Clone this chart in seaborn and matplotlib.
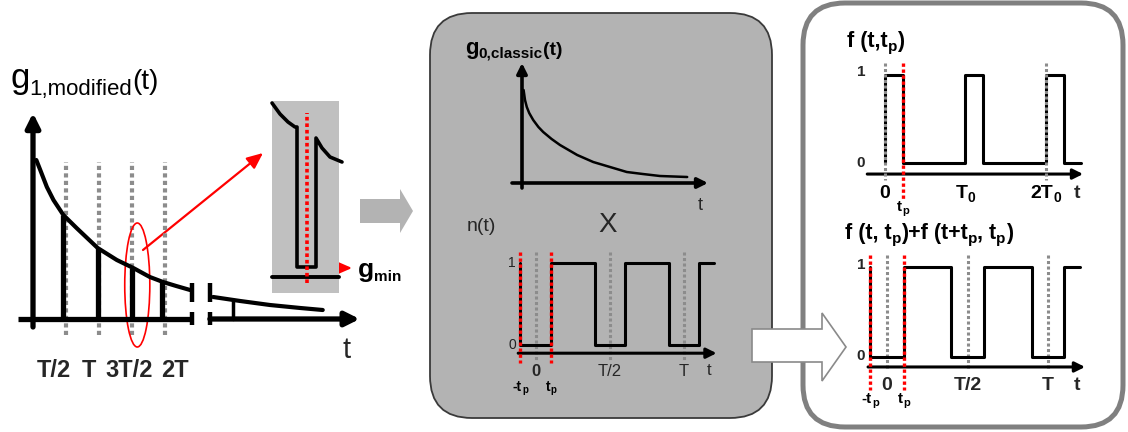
import numpy as np
import seaborn as sns
import matplotlib.pyplot as plt
from matplotlib.patches import FancyBboxPatch, Ellipse, Polygon

sns.set_style("white")
plt.rcParams['font.family'] = ['Liberation Sans', 'DejaVu Sans']

W, H = 1128, 432

# ---------------- data (time in units of T) ----------------
# left: g1,modified(t) decay, dips at multiples of T/2
g1_t = [0.05, 0.11, 0.21, 0.31, 0.46, 0.66, 0.98, 1.27, 1.52, 1.77, 1.97, 2.17, 2.38]
g1_val = [1.59, 1.49, 1.32, 1.19, 1.04, 0.91, 0.71, 0.59, 0.51, 0.42, 0.37, 0.33, 0.29]
g1_tail_t = [2.73, 3.14, 3.59, 4.05, 4.39]
g1_tail_val = [0.22, 0.18, 0.14, 0.11, 0.09]
g1_dip_t = [0.46, 0.98, 1.5, 1.96]
g1_dip_top = [1.04, 0.71, 0.51, 0.37]
g1_tail_dip_t = 3.03
g1_tail_dip_top = 0.19
g1_tick_t = [0.5, 1.0, 1.5, 2.0]
g1_tick_labels = ["T/2", "T", "3T/2", "2T"]
g1_label_t = [0.31, 0.85, 1.45, 2.15]
g1_break = [2.41, 2.68]

# zoom of one dip
zoom_t = [-0.35, -0.27, -0.19, -0.12, -0.10, -0.10, 0.09, 0.09, 0.15, 0.23, 0.35]
zoom_g = [1.74, 1.63, 1.55, 1.50, 1.50, 0.10, 0.10, 1.39, 1.29, 1.20, 1.15]

# g0,classic(t)
g0_t = [0.04, 0.075, 0.12, 0.18, 0.28, 0.41, 0.53, 0.74, 0.95, 1.38, 1.78, 2.2,
        2.62, 3.02, 3.45, 4.13]
g0_val = [0.93, 0.83, 0.76, 0.70, 0.63, 0.56, 0.51, 0.44, 0.38, 0.28, 0.21, 0.16,
          0.11, 0.09, 0.07, 0.06]

# n(t) and f(t,tp)+f(t+tp,tp): switching times and levels (steps-post)
tp = 0.105
n_edges = [-0.105, -0.105, 0.105, 0.40, 0.60, 0.90, 1.10, 1.20]
n_vals = [1, 0, 1, 0, 1, 0, 1, 1]
n_ticks = [0.0, 0.5, 1.0]
n_tick_labels = ["0", "T/2", "T"]

# f(t,tp), T0 = T/2
f_edges = [0.0, 0.0, 0.11, 0.50, 0.61, 1.00, 1.11, 1.22]
f_vals = [0, 1, 0, 1, 0, 1, 0, 0]
f_ticks = [0.0, 0.5, 1.0]
f_tick_labels = [[("0", 14, 0)], [("T", 14, 0), ("0", 10, 4)], [("2T", 14, 0), ("0", 10, 4)]]

GRAY_DOT = '#8c8c8c'

fig = plt.figure(figsize=(W / 100, H / 100), dpi=100)
bg = fig.add_axes([0, 0, 1, 1])
bg.set_xlim(0, W)
bg.set_ylim(H, 0)
bg.axis('off')
R = fig.canvas.get_renderer()


def sub_axes(box, xlim, ylim, face=None):
    x0, y0, x1, y1 = box
    ax = fig.add_axes([x0 / W, 1 - y1 / H, (x1 - x0) / W, (y1 - y0) / H])
    ax.set_xlim(xlim)
    ax.set_ylim(ylim)
    ax.set_xticks([])
    ax.set_yticks([])
    sns.despine(ax=ax, left=True, bottom=True)
    if face is None:
        ax.patch.set_visible(False)
    else:
        ax.set_facecolor(face)
    return ax


def to_px(ax, x, y):
    dx, dy = ax.transData.transform((x, y))
    return dx, H - dy


def arrow(ax, start, end, lw, ms, color='black', hl=0.6, hw=0.3):
    ax.annotate('', xy=end, xytext=start, annotation_clip=False,
                arrowprops=dict(arrowstyle=f'-|>,head_length={hl},head_width={hw}',
                                lw=lw, color=color, shrinkA=0, shrinkB=0,
                                mutation_scale=ms))


def vdots(ax, x, y0, y1, color, lw, z=3):
    ax.plot([x, x], [y0, y1], color=color, lw=lw, ls=(0, (1, 0.8)),
            solid_capstyle='butt', dash_capstyle='butt', zorder=z, clip_on=False)


def rich(x, y, parts, ha='left', weight='normal', color='black'):
    objs = [bg.text(0, y + dy, s, fontsize=fs, fontweight=weight, color=color,
                    va='baseline', ha='left') for s, fs, dy in parts]
    ws = [o.get_window_extent(renderer=R).width for o in objs]
    x0 = x - sum(ws) / 2 if ha == 'center' else x
    for o, w in zip(objs, ws):
        o.set_x(x0)
        x0 += w


# ---------------- panels and big arrows ----------------
bg.add_patch(FancyBboxPatch((430, 13), 342, 405, boxstyle='round,pad=0,rounding_size=42',
                            fc='#b3b3b3', ec='#3a3a3a', lw=1.3))
bg.add_patch(FancyBboxPatch((803, 3), 320, 424, boxstyle='round,pad=0,rounding_size=42',
                            fc='white', ec='#808080', lw=3.6))
bg.add_patch(Polygon([(360, 199), (400, 199), (400, 189), (413, 211), (400, 233),
                      (400, 223), (360, 223)], closed=True, fc='#b3b3b3', ec='none'))
bg.add_patch(Polygon([(752, 329), (822, 329), (822, 313), (846, 347), (822, 381),
                      (822, 362), (752, 362)], closed=True, fc='white', ec='#8a8a8a',
                     lw=1.2, zorder=5))

# ---------------- left: g1,modified ----------------
axL = sub_axes((0, 40, 380, 400), (-0.5, 5.2576), (-0.81, 2.79))
for t in g1_tick_t:
    vdots(axL, t, -0.16, 1.57, GRAY_DOT, 3.0, z=1)
sns.lineplot(x=g1_t, y=g1_val, ax=axL, color='black', lw=3.0, sort=False, estimator=None)
sns.lineplot(x=g1_tail_t, y=g1_tail_val, ax=axL, color='black', lw=3.0, sort=False,
             estimator=None)
for t, top in zip(g1_dip_t, g1_dip_top):
    axL.plot([t, t], [top, 0], color='black', lw=3.8, solid_capstyle='butt')
axL.plot([g1_tail_dip_t] * 2, [g1_tail_dip_top, 0], color='black', lw=2.5)
arrow(axL, (0, -0.08), (0, 2.06), 3.8, 14)
axL.plot([-0.23, g1_break[0]], [0, 0], color='black', lw=3.8, solid_capstyle='butt')
arrow(axL, (g1_break[1], 0), (4.95, 0), 3.8, 14)
for t in g1_break:
    axL.plot([t, t], [0.36, 0.17], color='black', lw=3.2, solid_capstyle='butt')
    axL.plot([t, t], [0.07, -0.06], color='black', lw=3.2, solid_capstyle='butt')
axL.add_patch(Ellipse((1.58, 0.34), width=0.38, height=1.24, fill=False, ec='red', lw=1.2))

rich(10, 88, [("g", 25, 0), ("1,modified", 16, 7), ("(t)", 20, 1)])
for t, lab in zip(g1_label_t, g1_tick_labels):
    px, _ = to_px(axL, t, 0)
    bg.text(px, 377, lab, fontsize=17, ha='center', va='baseline', fontweight='bold')
bg.text(347, 358, "t", fontsize=21, ha='center', va='baseline')
arrow(bg, (143, 250), (263, 153), 1.6, 12, color='red', hl=0.8, hw=0.35)

# zoom inset
axZ = sub_axes((272, 101, 339, 293), (-0.35, 0.32), (-0.16, 1.76), face='#c0c0c0')
axZ.plot([-0.35, 0.32], [0, 0], color='black', lw=2.8)
vdots(axZ, 0, -0.06, 1.64, 'red', 2.6, z=4)
sns.lineplot(x=zoom_t, y=zoom_g, ax=axZ, color='black', lw=2.6, sort=False, estimator=None)
for l in axZ.lines:
    l.set_clip_on(False)
arrow(bg, (316, 268), (352, 268), 1.6, 12, color='red', hl=0.8, hw=0.35)
rich(358, 277, [("g", 19, 0), ("min", 11, 4)], weight='bold')

# ---------------- middle: g0,classic ----------------
axG = sub_axes((500, 55, 720, 195), (-0.55, 4.95), (-0.12, 1.28))
sns.lineplot(x=g0_t, y=g0_val, ax=axG, color='black', lw=1.8, sort=False, estimator=None)
arrow(axG, (0, -0.05), (0, 1.2), 2.6, 10)
arrow(axG, (-0.25, 0), (4.65, 0), 2.6, 10)
rich(465, 54, [("g", 16, 0), ("0,classic", 11, 4), ("(t)", 14, 1)], weight='bold')
bg.text(700, 210, "t", fontsize=13, ha='center', va='baseline')
bg.text(467, 231, "n(t)", fontsize=14, va='baseline')
bg.text(608, 232, "X", fontsize=20, ha='center', va='baseline')

# n(t)
axN = sub_axes((505, 245, 725, 400), (-0.209, 1.277), (-0.671, 1.22))
for t in n_ticks:
    vdots(axN, t, 1.13, -0.18, GRAY_DOT, 2.2, z=1)
sns.lineplot(x=n_edges, y=n_vals, ax=axN, color='black', lw=2.2, sort=False,
             estimator=None, drawstyle='steps-post')
for t in (-tp, tp):
    vdots(axN, t, 1.134, -0.22, 'red', 2.4, z=4)
arrow(axN, (-0.12, -0.1), (1.22, -0.1), 2.2, 10)
bg.text(516, 263, "1", fontsize=10, ha='right', va='center', color='#222222')
bg.text(516, 345, "0", fontsize=10, ha='right', va='center', color='#222222')
for t, lab in zip(n_ticks, n_tick_labels):
    px, _ = to_px(axN, t, 0)
    bg.text(px, 376, lab, fontsize=12, ha='center', va='baseline',
            fontweight='bold' if lab == "0" else 'normal')
bg.text(709, 375, "t", fontsize=12, ha='center', va='baseline')
for t, s in ((-tp, "-t"), (tp, "t")):
    px, _ = to_px(axN, t, 0)
    rich(px, 391, [(s, 10, 0), ("p", 7, 2)], ha='center', weight='bold')

# ---------------- right: f(t,tp) ----------------
axF = sub_axes((855, 55, 1100, 215), (-0.186, 1.335), (-0.59, 1.227))
for t in (0.0, 1.0):
    vdots(axF, t, 1.136, -0.19, GRAY_DOT, 2.2, z=4)
sns.lineplot(x=f_edges, y=f_vals, ax=axF, color='black', lw=2.2, sort=False,
             estimator=None, drawstyle='steps-post')
vdots(axF, 0.11, 1.136, -0.42, 'red', 2.4, z=4)
arrow(axF, (-0.11, -0.125), (1.23, -0.125), 2.2, 10)
rich(847, 47, [("f (t,t", 15.5, 0), ("p", 11, 4), (")", 15.5, 0)], weight='bold')
bg.text(861, 72, "1", fontsize=11, ha='center', va='center', fontweight='bold')
bg.text(861, 163, "0", fontsize=11, ha='center', va='center', fontweight='bold')
for t, parts in zip(f_ticks, f_tick_labels):
    px, _ = to_px(axF, t, 0)
    rich(px, 198, parts, ha='center', weight='bold')
bg.text(1077, 198, "t", fontsize=14, ha='center', va='baseline', fontweight='bold')
px, _ = to_px(axF, 0.11, 0)
rich(px, 211, [("t", 11, 0), ("p", 8, 3)], ha='center', weight='bold')

# f(t,tp)+f(t+tp,tp)
axS = sub_axes((855, 245, 1100, 410), (-0.199, 1.323), (-0.589, 1.244))
for t in n_ticks:
    vdots(axS, t, 1.133, -0.144, GRAY_DOT, 2.2, z=1)
sns.lineplot(x=n_edges, y=n_vals, ax=axS, color='black', lw=2.2, sort=False,
             estimator=None, drawstyle='steps-post')
for t in (-tp, tp):
    vdots(axS, t, 1.133, -0.367, 'red', 2.4, z=4)
arrow(axS, (-0.118, -0.111), (1.23, -0.111), 2.2, 10)
rich(845, 239, [("f (t, t", 15.5, 0), ("p", 11, 4), (")+f (t+t", 15.5, 0), ("p", 11, 4),
                (", t", 15.5, 0), ("p", 11, 4), (")", 15.5, 0)], weight='bold')
bg.text(861, 265, "1", fontsize=11, ha='center', va='center', fontweight='bold')
bg.text(861, 356, "0", fontsize=11, ha='center', va='center', fontweight='bold')
for t, lab in zip(n_ticks, n_tick_labels):
    px, _ = to_px(axS, t, 0)
    bg.text(px, 390, lab, fontsize=14, ha='center', va='baseline', fontweight='bold')
bg.text(1077, 390, "t", fontsize=14, ha='center', va='baseline', fontweight='bold')
for t, s in ((-tp, "-t"), (tp, "t")):
    px, _ = to_px(axS, t, 0)
    rich(px, 403, [(s, 11, 0), ("p", 8, 3)], ha='center', weight='bold')

fig.savefig("out.png", dpi=100)
